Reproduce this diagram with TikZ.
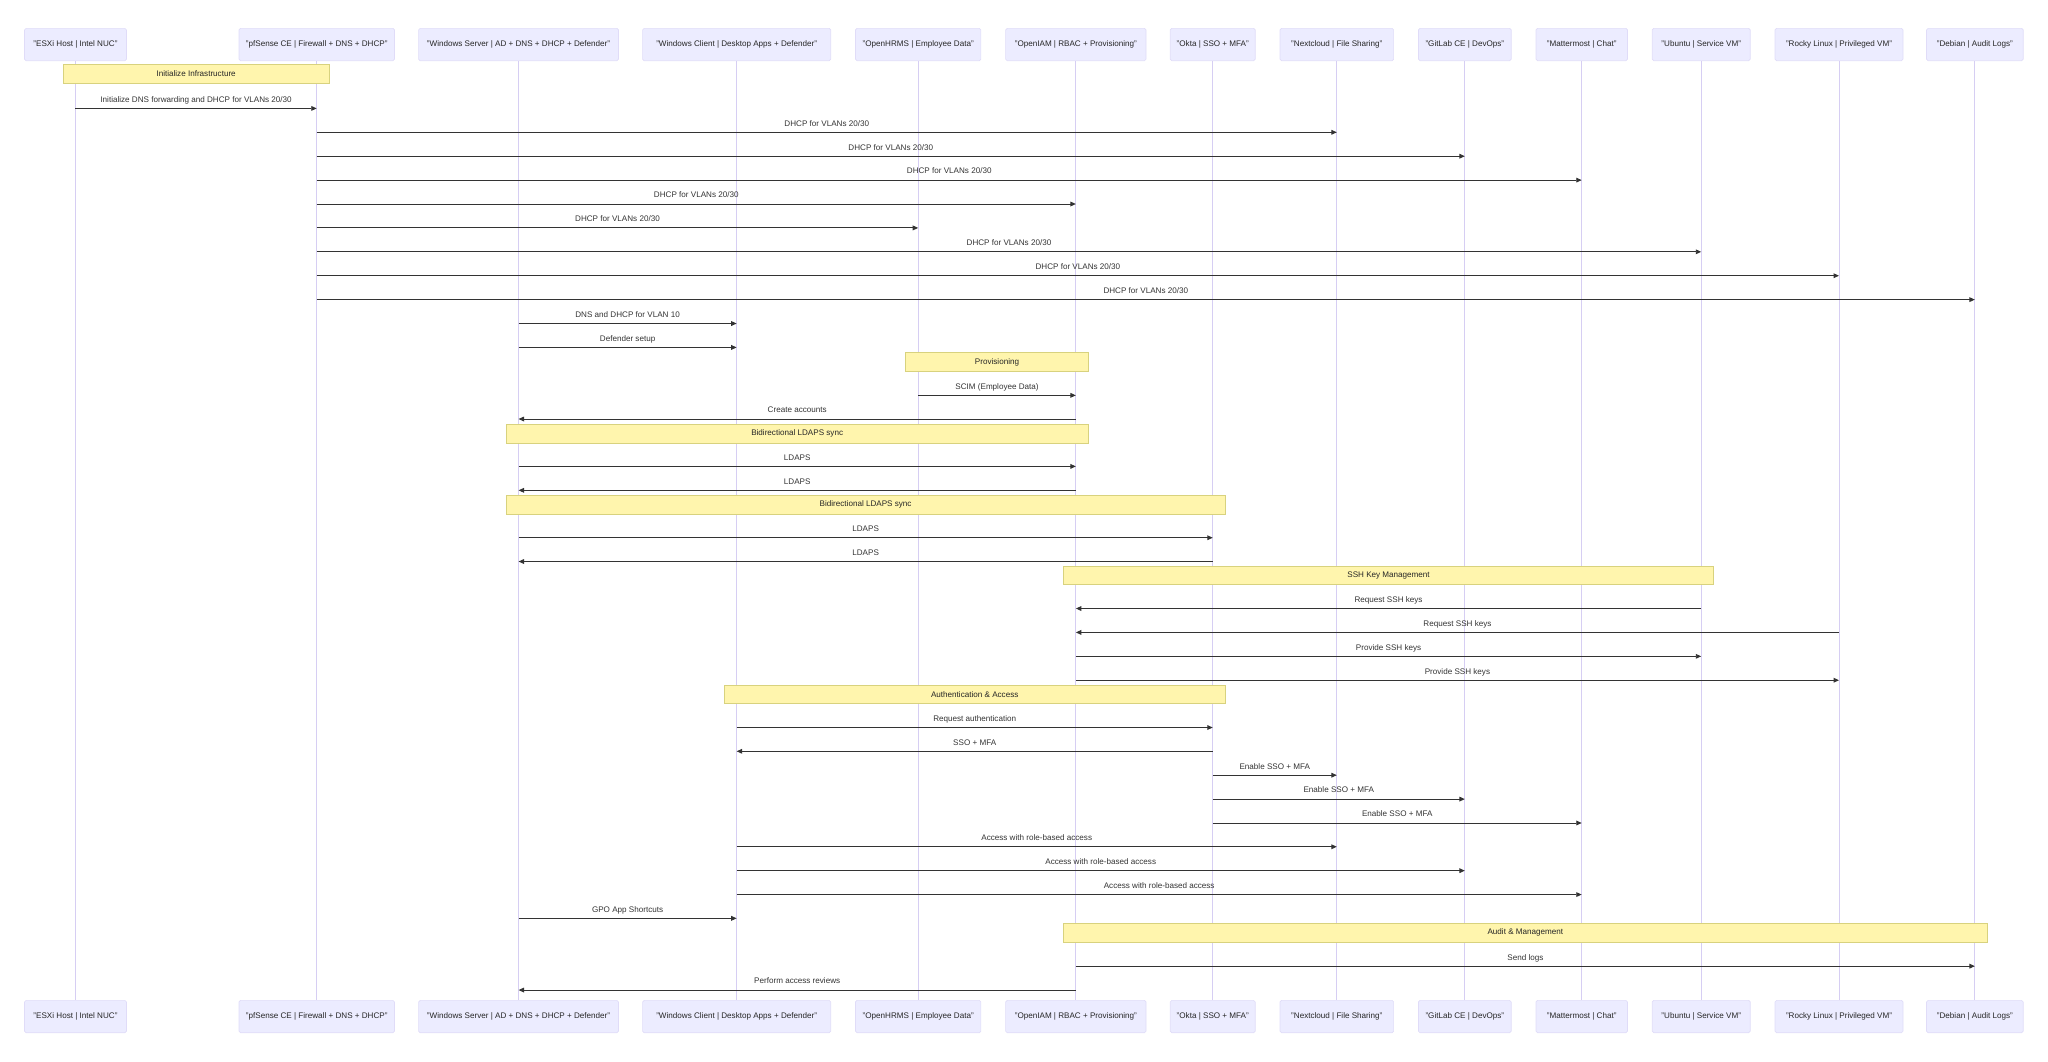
\documentclass[tikz,border=0pt]{standalone}
\usepackage{fontspec}
\setmainfont{Liberation Sans}
\usetikzlibrary{arrows.meta}
\definecolor{actfill}{HTML}{ECECFF}
\definecolor{actborder}{HTML}{E0DCF8}
\definecolor{actline}{HTML}{D6CEF3}
\definecolor{notefill}{HTML}{FFF5AD}
\definecolor{notedraw}{HTML}{D8D27E}
\definecolor{msgc}{HTML}{333333}
\newcommand\msgline[4]{\draw[msg] (#1 |- 0,#3) -- (#2 |- 0,#3) node[midway, msglabel, yshift=4.7pt]{#4};}
\begin{document}
\begin{tikzpicture}[x=1pt,y=-1pt, font=\fontsize{6.2}{7.4}\selectfont,
 actor/.style={draw=actborder, fill=actfill, line width=0.5pt, rounded corners=1.2pt, minimum height=24.8pt, inner sep=0pt, text=black!85},
 lifeline/.style={draw=actline, line width=0.6pt},
 notebox/.style={draw=notedraw, fill=notefill, line width=0.5pt, inner sep=0pt, minimum height=14.3pt, text=black!85},
 msg/.style={draw=msgc, line width=0.75pt, -{Triangle[length=4.2pt,width=3.6pt]}},
 msglabel/.style={text=msgc, anchor=base, inner sep=0pt}]
\useasboundingbox (0,0) rectangle (1568,813);
% actors (top and bottom)
\foreach \n/\cx/\w/\t in {
  esxi/57.8/78/{"ESXi Host | Intel NUC"},
  pf/242.5/119/{"pfSense CE | Firewall + DNS + DHCP"},
  ws/397/153/{"Windows Server | AD + DNS + DHCP + Defender"},
  wc/564/144/{"Windows Client | Desktop Apps + Defender"},
  hr/703/96/{"OpenHRMS | Employee Data"},
  iam/823.7/107.5/{"OpenIAM | RBAC + Provisioning"},
  okta/928.5/65/{"Okta | SSO + MFA"},
  nc/1023.5/87/{"Nextcloud | File Sharing"},
  gl/1121.5/71/{"GitLab CE | DevOps"},
  mm/1211/70/{"Mattermost | Chat"},
  ub/1302.5/75/{"Ubuntu | Service VM"},
  rk/1408/98/{"Rocky Linux | Privileged VM"},
  db/1512/74/{"Debian | Audit Logs"}} {
  \node[actor, minimum width=\w pt] (\n) at (\cx,34.1) {\t};
  \node[actor, minimum width=\w pt] (\n B) at (\cx,778.3) {\t};
  \draw[lifeline] (\n.south) -- (\n B.north);
}
% notes
\node[notebox, minimum width=203.7pt] (n1) at (150.15,56.7) {Initialize Infrastructure};
\node[notebox, minimum width=139.7pt] (n2) at (763.35,277.2) {Provisioning};
\node[notebox, minimum width=445.7pt] (n3) at (610.35,331.9) {Bidirectional LDAPS sync};
\node[notebox, minimum width=550.5pt] (n4) at (662.75,386.4) {Bidirectional LDAPS sync};
\node[notebox, minimum width=497.8pt] (n5) at (1063.1,440.6) {SSH Key Management};
\node[notebox, minimum width=383.5pt] (n6) at (746.25,531.7) {Authentication \& Access};
\node[notebox, minimum width=707.3pt] (n7) at (1167.85,714.2) {Audit \& Management};
% messages
\msgline{esxi}{pf}{83.0}{Initialize DNS forwarding and DHCP for VLANs 20/30}
\msgline{pf}{nc}{101.3}{DHCP for VLANs 20/30}
\msgline{pf}{gl}{119.6}{DHCP for VLANs 20/30}
\msgline{pf}{mm}{137.9}{DHCP for VLANs 20/30}
\msgline{pf}{iam}{156.2}{DHCP for VLANs 20/30}
\msgline{pf}{hr}{174.5}{DHCP for VLANs 20/30}
\msgline{pf}{ub}{192.8}{DHCP for VLANs 20/30}
\msgline{pf}{rk}{211.1}{DHCP for VLANs 20/30}
\msgline{pf}{db}{229.4}{DHCP for VLANs 20/30}
\msgline{ws}{wc}{247.7}{DNS and DHCP for VLAN 10}
\msgline{ws}{wc}{266.0}{Defender setup}
\msgline{hr}{iam}{302.7}{SCIM (Employee Data)}
\msgline{iam}{ws}{320.8}{Create accounts}
\msgline{ws}{iam}{357.1}{LDAPS}
\msgline{iam}{ws}{375.4}{LDAPS}
\msgline{ws}{okta}{411.7}{LDAPS}
\msgline{okta}{ws}{429.9}{LDAPS}
\msgline{ub}{iam}{465.9}{Request SSH keys}
\msgline{rk}{iam}{484.2}{Request SSH keys}
\msgline{iam}{ub}{502.5}{Provide SSH keys}
\msgline{iam}{rk}{520.8}{Provide SSH keys}
\msgline{wc}{okta}{557.0}{Request authentication}
\msgline{okta}{wc}{575.2}{SSO + MFA}
\msgline{okta}{nc}{593.5}{Enable SSO + MFA}
\msgline{okta}{gl}{611.8}{Enable SSO + MFA}
\msgline{okta}{mm}{630.1}{Enable SSO + MFA}
\msgline{wc}{nc}{648.3}{Access with role-based access}
\msgline{wc}{gl}{666.6}{Access with role-based access}
\msgline{wc}{mm}{684.9}{Access with role-based access}
\msgline{ws}{wc}{703.1}{GPO App Shortcuts}
\msgline{iam}{db}{739.7}{Send logs}
\msgline{iam}{ws}{758.0}{Perform access reviews}
\end{tikzpicture}
\end{document}
